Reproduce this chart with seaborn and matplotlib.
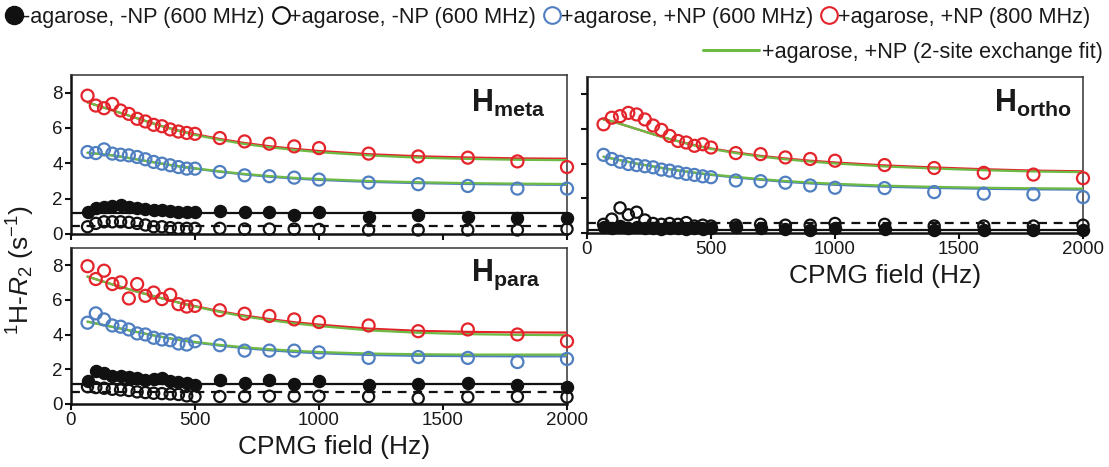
import numpy as np
import pandas as pd
import matplotlib
matplotlib.use("Agg")
import matplotlib.pyplot as plt
from matplotlib.lines import Line2D
import seaborn as sns

# ---------------- data ----------------
CPMG_HZ = [66.7, 100, 133.3, 166.7, 200, 233.3, 266.7, 300, 333.3, 366.7, 400, 433.3, 466.7, 500,
           600, 700, 800, 900, 1000, 1200, 1400, 1600, 1800, 2000]
X_TICKS = [0, 500, 1000, 1500, 2000]
Y_TICKS = [0, 2, 4, 6, 8]

# H_meta
META_RED = [7.83, 7.27, 7.12, 7.36, 6.99, 6.80, 6.52, 6.37, 6.18, 6.10, 5.92, 5.80, 5.72, 5.67,
            5.43, 5.24, 5.11, 4.96, 4.86, 4.55, 4.39, 4.32, 4.11, 3.79]
META_BLUE = [4.64, 4.58, 4.79, 4.55, 4.49, 4.45, 4.36, 4.23, 4.08, 3.98, 3.89, 3.79, 3.70, 3.70,
             3.51, 3.32, 3.27, 3.19, 3.08, 2.91, 2.82, 2.72, 2.57, 2.57]
META_FILLED = [1.26, 1.45, 1.54, 1.60, 1.63, 1.54, 1.45, 1.41, 1.35, 1.35, 1.30, 1.26, 1.26, 1.26,
               1.30, 1.26, 1.26, 1.07, 1.22, 0.98, 1.07, 0.98, 0.92, 0.88]
META_OPEN = [0.41, 0.60, 0.69, 0.69, 0.69, 0.66, 0.60, 0.51, 0.41, 0.41, 0.36, 0.32, 0.32, 0.32,
             0.32, 0.28, 0.28, 0.28, 0.26, 0.23, 0.23, 0.23, 0.23, 0.28]
META_RED_FIT = [7.45, 7.30, 7.15, 7.00, 6.85, 6.70, 6.55, 6.40, 6.25, 6.10, 5.98, 5.86, 5.75, 5.65,
                5.38, 5.15, 4.97, 4.82, 4.70, 4.52, 4.40, 4.33, 4.28, 4.26]
META_RED_GREEN = [7.45, 7.30, 7.15, 7.00, 6.85, 6.70, 6.55, 6.40, 6.25, 6.10, 5.97, 5.84, 5.72, 5.61,
                  5.33, 5.09, 4.91, 4.76, 4.63, 4.45, 4.32, 4.25, 4.20, 4.18]
META_BLUE_FIT = [4.60, 4.55, 4.50, 4.45, 4.38, 4.30, 4.22, 4.14, 4.06, 3.98, 3.90, 3.83, 3.76, 3.70,
                 3.52, 3.37, 3.24, 3.14, 3.06, 2.95, 2.88, 2.83, 2.80, 2.78]
META_BLUE_GREEN = [4.60, 4.55, 4.50, 4.45, 4.38, 4.30, 4.22, 4.14, 4.06, 3.98, 3.91, 3.84, 3.78, 3.72,
                   3.55, 3.40, 3.28, 3.18, 3.11, 3.00, 2.93, 2.88, 2.85, 2.83]
META_FILLED_MEAN = 1.20
META_OPEN_MEAN = 0.45

# H_ortho
ORTHO_RED = [6.27, 6.65, 6.74, 6.93, 6.84, 6.55, 6.20, 5.95, 5.60, 5.31, 5.22, 5.03, 5.12, 4.93,
             4.61, 4.55, 4.36, 4.27, 4.17, 3.92, 3.75, 3.47, 3.37, 3.16]
ORTHO_BLUE = [4.51, 4.27, 4.11, 3.98, 3.92, 3.85, 3.79, 3.66, 3.60, 3.50, 3.41, 3.35, 3.27, 3.22,
              3.03, 2.99, 2.90, 2.74, 2.61, 2.59, 2.36, 2.27, 2.23, 2.07]
ORTHO_FILLED = [0.35, 0.30, 0.40, 0.30, 0.35, 0.30, 0.30, 0.25, 0.30, 0.30, 0.25, 0.30, 0.25, 0.30,
                0.35, 0.30, 0.25, 0.20, 0.30, 0.25, 0.20, 0.20, 0.20, 0.20]
ORTHO_OPEN = [0.50, 0.80, 1.45, 1.05, 1.20, 0.75, 0.55, 0.50, 0.55, 0.50, 0.60, 0.40, 0.45, 0.40,
              0.45, 0.50, 0.45, 0.45, 0.55, 0.50, 0.40, 0.40, 0.40, 0.45]
ORTHO_RED_FIT = [6.55, 6.45, 6.30, 6.15, 6.00, 5.85, 5.70, 5.55, 5.42, 5.30, 5.18, 5.07, 4.97, 4.88,
                 4.65, 4.45, 4.30, 4.17, 4.07, 3.90, 3.78, 3.68, 3.60, 3.56]
ORTHO_RED_GREEN = [6.55, 6.45, 6.30, 6.15, 6.00, 5.85, 5.70, 5.55, 5.42, 5.30, 5.17, 5.05, 4.95, 4.85,
                   4.61, 4.41, 4.25, 4.12, 4.01, 3.84, 3.72, 3.62, 3.55, 3.51]
ORTHO_BLUE_FIT = [4.40, 4.30, 4.20, 4.10, 4.00, 3.92, 3.84, 3.76, 3.68, 3.61, 3.54, 3.47, 3.41, 3.35,
                  3.20, 3.07, 2.95, 2.86, 2.78, 2.67, 2.60, 2.55, 2.52, 2.50]
ORTHO_BLUE_GREEN = [4.40, 4.30, 4.20, 4.10, 4.00, 3.92, 3.84, 3.76, 3.68, 3.61, 3.55, 3.49, 3.43, 3.38,
                    3.24, 3.11, 3.00, 2.91, 2.84, 2.73, 2.66, 2.61, 2.58, 2.56]
ORTHO_FILLED_MEAN = 0.20
ORTHO_OPEN_MEAN = 0.60

# H_para
PARA_RED = [7.95, 7.21, 7.69, 6.92, 7.02, 6.09, 6.92, 6.24, 6.43, 6.05, 6.30, 5.76, 5.62, 5.66,
            5.41, 5.21, 5.08, 4.88, 4.73, 4.53, 4.20, 4.30, 4.01, 3.62]
PARA_BLUE = [4.69, 5.23, 4.88, 4.53, 4.46, 4.30, 4.07, 4.01, 3.82, 3.72, 3.68, 3.49, 3.43, 3.62,
             3.39, 3.08, 3.08, 3.08, 2.98, 2.66, 2.71, 2.66, 2.42, 2.60]
PARA_FILLED = [1.30, 1.88, 1.78, 1.63, 1.59, 1.55, 1.49, 1.40, 1.43, 1.49, 1.30, 1.25, 1.20, 1.10,
               1.36, 1.20, 1.36, 1.16, 1.30, 1.10, 1.16, 1.20, 1.10, 1.00]
PARA_OPEN = [1.00, 0.95, 0.91, 0.85, 0.81, 0.78, 0.70, 0.66, 0.62, 0.60, 0.58, 0.55, 0.47, 0.43,
             0.43, 0.43, 0.45, 0.45, 0.45, 0.43, 0.33, 0.40, 0.43, 0.40]
PARA_RED_FIT = [7.35, 7.20, 7.05, 6.90, 6.76, 6.62, 6.48, 6.35, 6.22, 6.10, 5.98, 5.86, 5.75, 5.65,
                5.35, 5.10, 4.90, 4.72, 4.58, 4.35, 4.22, 4.16, 4.13, 4.12]
PARA_RED_GREEN = [7.35, 7.20, 7.05, 6.90, 6.76, 6.62, 6.48, 6.35, 6.22, 6.10, 5.97, 5.85, 5.73, 5.62,
                  5.31, 5.05, 4.84, 4.65, 4.50, 4.25, 4.11, 4.03, 3.99, 3.97]
PARA_BLUE_FIT = [4.75, 4.65, 4.55, 4.45, 4.35, 4.25, 4.15, 4.05, 3.96, 3.87, 3.78, 3.70, 3.62, 3.55,
                 3.37, 3.22, 3.10, 3.00, 2.93, 2.83, 2.78, 2.76, 2.75, 2.75]
PARA_BLUE_GREEN = [4.75, 4.65, 4.55, 4.45, 4.35, 4.25, 4.15, 4.05, 3.96, 3.87, 3.79, 3.71, 3.64, 3.58,
                   3.41, 3.27, 3.16, 3.07, 3.00, 2.91, 2.87, 2.85, 2.85, 2.85]
PARA_FILLED_MEAN = 1.15
PARA_OPEN_MEAN = 0.72

LEGEND_LABELS = ["-agarose, -NP (600 MHz)", "+agarose, -NP (600 MHz)",
                 "+agarose, +NP (600 MHz)", "+agarose, +NP (800 MHz)",
                 "+agarose, +NP (2-site exchange fit)"]
X_LABEL = "CPMG field (Hz)"
Y_LABEL = r"$^{1}$H-$R_{2}$ (s$^{-1}$)"

# ---------------- style ----------------
sns.set_style("ticks")
plt.rcParams["font.family"] = ["Liberation Sans", "DejaVu Sans"]
plt.rcParams["mathtext.fontset"] = "custom"
plt.rcParams["mathtext.rm"] = "Liberation Sans"
plt.rcParams["mathtext.it"] = "Liberation Sans:italic"
plt.rcParams["mathtext.bf"] = "Liberation Sans:bold"

RED = "#e3242b"
BLUE = "#4f7fc0"
GREEN = "#6dbb45"
BLACK = "#111111"
TXT = "#1a1a1a"

W, H = 1109, 467
fig = plt.figure(figsize=(W / 100, H / 100), dpi=100)


def px_rect(x0, y0, x1, y1):
    return [x0 / W, (H - y1) / H, (x1 - x0) / W, (y1 - y0) / H]


ax_meta = fig.add_axes(px_rect(71, 75, 567, 234))
ax_ortho = fig.add_axes(px_rect(587, 77, 1083, 233))
ax_para = fig.add_axes(px_rect(71, 248, 567, 404))


def draw_panel(ax, red, blue, filled, openv, red_fit, red_green, blue_fit, blue_green,
               filled_mean, open_mean, name, name_xy):
    df = pd.DataFrame({"x": CPMG_HZ, "red": red, "blue": blue, "filled": filled, "open": openv,
                       "red_fit": red_fit, "red_green": red_green,
                       "blue_fit": blue_fit, "blue_green": blue_green})
    ax.axhline(filled_mean, color=BLACK, lw=1.6, zorder=2)
    ax.axhline(open_mean, color=BLACK, lw=1.6, ls=(0, (4, 3)), zorder=2)
    sns.lineplot(data=df, x="x", y="red_fit", ax=ax, color=RED, lw=1.6, zorder=3)
    sns.lineplot(data=df, x="x", y="red_green", ax=ax, color=GREEN, lw=1.6, zorder=3)
    sns.lineplot(data=df, x="x", y="blue_fit", ax=ax, color=BLUE, lw=1.6, zorder=3)
    sns.lineplot(data=df, x="x", y="blue_green", ax=ax, color=GREEN, lw=1.6, zorder=3)
    sns.scatterplot(data=df, x="x", y="filled", ax=ax, marker="o", s=75, color=BLACK,
                    edgecolor=BLACK, linewidth=1.0, zorder=4, clip_on=False)
    sns.scatterplot(data=df, x="x", y="open", ax=ax, marker="o", s=65, facecolor="none",
                    edgecolor=BLACK, linewidth=1.6, zorder=5, clip_on=False)
    sns.scatterplot(data=df, x="x", y="blue", ax=ax, marker="o", s=75, facecolor="none",
                    edgecolor=BLUE, linewidth=1.6, zorder=5, clip_on=False)
    sns.scatterplot(data=df, x="x", y="red", ax=ax, marker="o", s=75, facecolor="none",
                    edgecolor=RED, linewidth=1.6, zorder=5, clip_on=False)
    ax.set_xlim(0, 2000)
    ax.set_ylim(0, 9)
    ax.set_xticks(X_TICKS)
    ax.set_yticks(Y_TICKS)
    ax.set_xlabel("")
    ax.set_ylabel("")
    ax.tick_params(direction="out", length=4, width=1.5, labelsize=13.5, colors=BLACK,
                   labelcolor=TXT, pad=2)
    for side in ("left", "bottom"):
        ax.spines[side].set_linewidth(1.8)
        ax.spines[side].set_color(BLACK)
    for side in ("top", "right"):
        ax.spines[side].set_linewidth(1.1)
        ax.spines[side].set_color("#333333")
    ax.text(name_xy[0], name_xy[1], r"$\mathbf{H}_{\mathbf{%s}}$" % name, transform=ax.transAxes,
            ha="right", va="center", fontsize=22, color=TXT)


draw_panel(ax_meta, META_RED, META_BLUE, META_FILLED, META_OPEN, META_RED_FIT, META_RED_GREEN,
           META_BLUE_FIT, META_BLUE_GREEN, META_FILLED_MEAN, META_OPEN_MEAN, "meta", (0.956, 0.82))
draw_panel(ax_ortho, ORTHO_RED, ORTHO_BLUE, ORTHO_FILLED, ORTHO_OPEN, ORTHO_RED_FIT, ORTHO_RED_GREEN,
           ORTHO_BLUE_FIT, ORTHO_BLUE_GREEN, ORTHO_FILLED_MEAN, ORTHO_OPEN_MEAN, "ortho", (0.978, 0.83))
draw_panel(ax_para, PARA_RED, PARA_BLUE, PARA_FILLED, PARA_OPEN, PARA_RED_FIT, PARA_RED_GREEN,
           PARA_BLUE_FIT, PARA_BLUE_GREEN, PARA_FILLED_MEAN, PARA_OPEN_MEAN, "para", (0.946, 0.83))

ax_meta.tick_params(labelbottom=False)
ax_ortho.tick_params(labelleft=False)
ax_para.set_xlabel(X_LABEL, fontsize=19, color=TXT, labelpad=4)
ax_para.xaxis.set_label_coords(0.53, -0.2)
ax_ortho.set_xlabel(X_LABEL, fontsize=19, color=TXT, labelpad=4)
ax_ortho.xaxis.set_label_coords(0.6, -0.2)
fig.text(21 / W, 1 - 270 / H, Y_LABEL, rotation=90, ha="center", va="center", fontsize=19, color=TXT)

# legends
h_filled = Line2D([], [], ls="none", marker="o", ms=13, mfc=BLACK, mec=BLACK)
h_open = Line2D([], [], ls="none", marker="o", ms=12, mfc="none", mec=BLACK, mew=1.5)
h_blue = Line2D([], [], ls="none", marker="o", ms=12, mfc="none", mec=BLUE, mew=1.5)
h_red = Line2D([], [], ls="none", marker="o", ms=12, mfc="none", mec=RED, mew=1.5)
h_fit = Line2D([], [], color=GREEN, lw=2.2)

leg_font = {"family": ["Liberation Sans", "DejaVu Sans"], "size": 15.6}
fig.legend([h_filled, h_open, h_blue, h_red], LEGEND_LABELS[:4], loc="upper left",
           bbox_to_anchor=(0.0, 1.0), ncol=4, frameon=False, prop=leg_font, handlelength=0.7,
           handletextpad=0.05, columnspacing=0.4, borderaxespad=0.1, borderpad=0.2,
           labelcolor=TXT)
fig.legend([h_fit], LEGEND_LABELS[4:], loc="upper right", bbox_to_anchor=(1.0, 0.925),
           frameon=False, prop=leg_font, handlelength=2.6, handletextpad=0.1, borderaxespad=0.1,
           borderpad=0.2, labelcolor=TXT)

fig.savefig("out.png", dpi=100)
